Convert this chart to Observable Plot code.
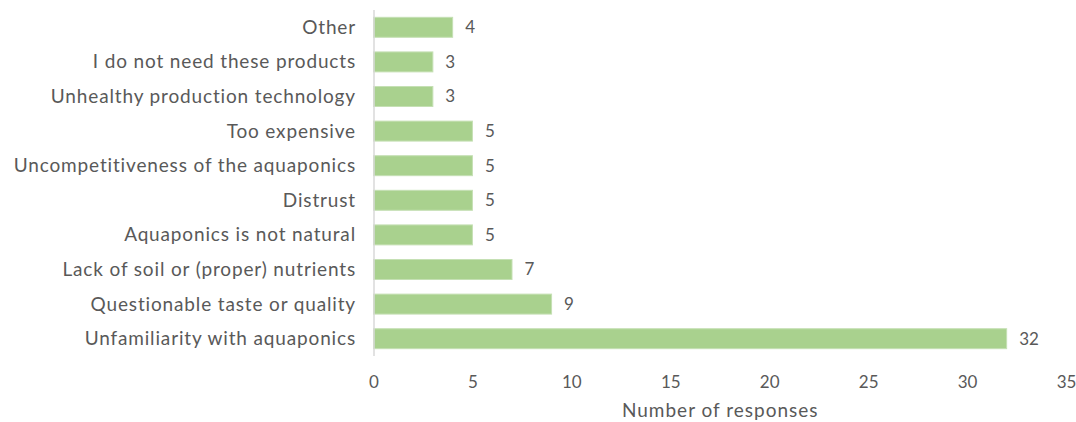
<!DOCTYPE html>
<html>
<head>
<meta charset="utf-8">
<script src="https://cdn.jsdelivr.net/npm/d3@7"></script>
<script src="https://cdn.jsdelivr.net/npm/@observablehq/plot@0.6"></script>
<style>
  html, body { margin: 0; padding: 0; background: #fff; }
  svg { font-family: Lato, "Open Sans", sans-serif; }
</style>
</head>
<body>
<div id="chart"></div>
<script>
const categories = [
  "Other",
  "I do not need these products",
  "Unhealthy production technology",
  "Too expensive",
  "Uncompetitiveness of the aquaponics",
  "Distrust",
  "Aquaponics is not natural",
  "Lack of soil or (proper) nutrients",
  "Questionable taste or quality",
  "Unfamiliarity with aquaponics"
];
const values = [4, 3, 3, 5, 5, 5, 5, 7, 9, 32];
const xTicks = [0, 5, 10, 15, 20, 25, 30, 35];
const xTitle = "Number of responses";

const data = categories.map((c, i) => ({category: c, value: values[i]}));

const chart = Plot.plot({
  width: 1076,
  height: 422,
  marginLeft: 373.5,
  marginRight: 10,
  marginTop: 10,
  marginBottom: 66,
  style: {fontFamily: "Lato, 'Open Sans', sans-serif", color: "#595959", background: "#fff"},
  x: {domain: [0, 35], ticks: xTicks, label: null},
  y: {domain: categories, paddingInner: 0.423, paddingOuter: 0.2115, round: false, label: null},
  marks: [
    Plot.barX(data, {x: "value", y: "category", fill: "#a9d18e", stroke: "#c5e0b4", strokeWidth: 1}),
    Plot.ruleX([0], {stroke: "#d9d9d9", strokeWidth: 1.5}),
    Plot.text(data, {x: "value", y: "category", text: d => String(d.value), dx: 12, textAnchor: "start", fontSize: 17, fill: "#595959"}),
    Plot.axisY({tickSize: 0, tickPadding: 18, fontSize: 19, label: null, fill: "#595959"}),
    Plot.axisX({ticks: xTicks, tickSize: 0, tickPadding: 19.5, fontSize: 17, label: null, fill: "#595959"}),
    Plot.text([xTitle], {frameAnchor: "bottom", dy: 60, fontSize: 19, fill: "#595959"})
  ]
});
d3.select(chart).selectAll('g[aria-label="y-axis tick label"] text').style("letter-spacing", "0.85px");
d3.select(chart).selectAll('g[aria-label="text"]').filter((d, i, n) => n[i].textContent === xTitle).selectAll("text").style("letter-spacing", "1px");
document.getElementById("chart").appendChild(chart);
</script>
</body>
</html>
